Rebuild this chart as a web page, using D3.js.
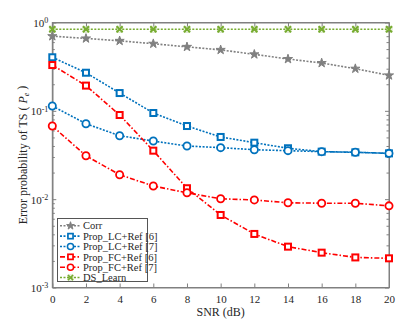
<!DOCTYPE html>
<html>
<head>
<meta charset="utf-8">
<script src="https://cdn.jsdelivr.net/npm/d3@7"></script>
<style>
  body { margin: 0; background: #fff; }
  svg text { font-family: "Liberation Serif", "DejaVu Serif", serif !important; fill: #262626; }
  .axis path, .axis line { stroke: #808080; }
</style>
</head>
<body>
<div class="chart"></div>
<script>
const snr = [0, 2, 4, 6, 8, 10, 12, 14, 16, 18, 20];
const corr     = [0.70, 0.66, 0.62, 0.575, 0.53, 0.49, 0.436, 0.386, 0.348, 0.30, 0.252];
const lcRef6   = [0.404, 0.27, 0.159, 0.0945, 0.0673, 0.0506, 0.0436, 0.0377, 0.0345, 0.0339, 0.033];
const lcRef7   = [0.1135, 0.0715, 0.0523, 0.0455, 0.040, 0.0383, 0.0363, 0.0354, 0.0345, 0.034, 0.033];
const fcRef6   = [0.33, 0.193, 0.0897, 0.0354, 0.0133, 0.00662, 0.00404, 0.0029, 0.00248, 0.00219, 0.00214];
const fcRef7   = [0.0673, 0.031, 0.0189, 0.0141, 0.0118, 0.0101, 0.0098, 0.0091, 0.009, 0.009, 0.0084];
const dsLearn  = [0.84, 0.84, 0.84, 0.84, 0.84, 0.84, 0.84, 0.84, 0.84, 0.84, 0.84];
const xTicks = [0, 2, 4, 6, 8, 10, 12, 14, 16, 18, 20];
const yTicks = [1e-3, 1e-2, 1e-1, 1];

const series = [
  {name: 'Corr', values: corr, color: '#808080', dash: '2,1.5', marker: 'star'},
  {name: 'Prop_LC+Ref [6]', values: lcRef6, color: '#0072BD', dash: '2,1.5', marker: 'square'},
  {name: 'Prop_LC+Ref [7]', values: lcRef7, color: '#0072BD', dash: '2,1.5', marker: 'circle'},
  {name: 'Prop_FC+Ref [6]', values: fcRef6, color: '#FF0000', dash: '5,2,1.5,2', marker: 'square'},
  {name: 'Prop_FC+Ref [7]', values: fcRef7, color: '#FF0000', dash: '5,2,1.5,2', marker: 'circle'},
  {name: 'DS_Learn', values: dsLearn, color: '#77AC30', dash: '2,1.5', marker: 'cross'}
];

const W = 415, H = 335;
const margin = {left: 52.3, right: 389, top: 22.5, bottom: 287.5};
const FONT = '"Liberation Serif", "DejaVu Serif", serif';

const svg = d3.select('.chart').append('svg')
  .attr('width', W).attr('height', H)
  .attr('viewBox', [0, 0, W, H])
  .attr('font-family', FONT);

const x = d3.scaleLinear().domain([0, 20]).range([margin.left, margin.right]);
const y = d3.scaleLog().domain([1e-3, 1]).range([margin.bottom, margin.top]);

// minor ticks for log axis
const minor = [];
[1e-3, 1e-2, 1e-1].forEach(d => { for (let k = 2; k <= 9; k++) minor.push(d * k); });

// axes
const xAxis = svg.append('g').attr('class', 'axis')
  .attr('transform', `translate(0,${margin.bottom})`)
  .call(d3.axisBottom(x).tickValues(xTicks).tickSizeInner(-4).tickSizeOuter(0).tickPadding(8));
svg.append('g').attr('class', 'axis')
  .attr('transform', `translate(0,${margin.top})`)
  .call(d3.axisTop(x).tickValues(xTicks).tickSizeInner(-4).tickSizeOuter(0).tickFormat(''));

const yAxis = svg.append('g').attr('class', 'axis')
  .attr('transform', `translate(${margin.left},0)`)
  .call(d3.axisLeft(y).tickValues(yTicks).tickSizeInner(-4).tickSizeOuter(0).tickFormat(''));
svg.append('g').attr('class', 'axis')
  .attr('transform', `translate(${margin.right},0)`)
  .call(d3.axisRight(y).tickValues(yTicks).tickSizeInner(-4).tickSizeOuter(0).tickFormat(''));
svg.append('g').attr('class', 'axis')
  .attr('transform', `translate(${margin.left},0)`)
  .call(d3.axisLeft(y).tickValues(minor).tickSizeInner(-2.5).tickSizeOuter(0).tickFormat(''));
svg.append('g').attr('class', 'axis')
  .attr('transform', `translate(${margin.right},0)`)
  .call(d3.axisRight(y).tickValues(minor).tickSizeInner(-2.5).tickSizeOuter(0).tickFormat(''));

svg.selectAll('.axis').attr('font-family', FONT);
xAxis.selectAll('text').attr('font-size', 11).attr('fill', '#262626');

// y tick labels as 10^n
yAxis.selectAll('.tick').each(function(d) {
  const t = d3.select(this).append('text')
    .attr('x', -4).attr('dy', '0.35em')
    .attr('text-anchor', 'end')
    .attr('font-size', 11);
  t.append('tspan').text('10');
  t.append('tspan').attr('dy', '-0.45em').attr('font-size', 8).text(Math.round(Math.log10(d)));
});

// box
svg.append('rect')
  .attr('x', margin.left).attr('y', margin.top)
  .attr('width', margin.right - margin.left).attr('height', margin.bottom - margin.top)
  .attr('fill', 'none').attr('stroke', '#808080');

// axis labels
svg.append('text')
  .attr('x', (margin.left + margin.right) / 2).attr('y', 316)
  .attr('text-anchor', 'middle')
  .attr('font-size', 12)
  .text('SNR (dB)');

const yl = svg.append('text')
  .attr('transform', `translate(27,${(margin.top + margin.bottom) / 2}) rotate(-90)`)
  .attr('text-anchor', 'middle')
  .attr('font-size', 12);
yl.append('tspan').text('Error probability of TS ( ');
yl.append('tspan').attr('font-style', 'italic').text('P');
yl.append('tspan').attr('dy', '0.3em').attr('font-size', 8).attr('font-style', 'italic').text('e');
yl.append('tspan').attr('dy', '-0.3em').text(' )');

function drawMarker(g, type, color, cx, cy, s) {
  const h = 3 * s;
  if (type === 'square') {
    g.append('rect').attr('x', cx - h).attr('y', cy - h).attr('width', 2 * h).attr('height', 2 * h)
      .attr('fill', '#fff').attr('stroke', color).attr('stroke-width', 2 * s);
  } else if (type === 'circle') {
    g.append('circle').attr('cx', cx).attr('cy', cy).attr('r', 3.6 * s)
      .attr('fill', '#fff').attr('stroke', color).attr('stroke-width', 1.8 * s);
  } else if (type === 'star') {
    g.append('path').attr('d', d3.symbol(d3.symbolStar, 26 * s * s)())
      .attr('transform', `translate(${cx},${cy})`)
      .attr('fill', color).attr('stroke', color).attr('stroke-width', 1);
  } else if (type === 'cross') {
    g.append('path').attr('d', `M${cx - h},${cy - h}L${cx + h},${cy + h}M${cx - h},${cy + h}L${cx + h},${cy - h}`)
      .attr('stroke', color).attr('stroke-width', 2 * s);
    g.append('rect').attr('x', cx - h).attr('y', cy - h).attr('width', 2 * h).attr('height', 2 * h)
      .attr('fill', 'none').attr('stroke', color).attr('stroke-width', 0.6).attr('opacity', 0.5);
  }
}

const line = d3.line().x((d, i) => x(snr[i])).y(d => y(d));

series.forEach(s => {
  const g = svg.append('g');
  g.append('path')
    .attr('d', line(s.values))
    .attr('fill', 'none')
    .attr('stroke', s.color)
    .attr('stroke-width', 1.6)
    .attr('stroke-dasharray', s.dash);
  s.values.forEach((v, i) => drawMarker(g, s.marker, s.color, x(snr[i]), y(v), 1));
});

// legend
const lg = svg.append('g');
lg.append('rect')
  .attr('x', 57.5).attr('y', 218.5).attr('width', 90).attr('height', 63)
  .attr('fill', '#fff').attr('stroke', '#555');
series.forEach((s, i) => {
  const ly = 225.8 + i * 10.35;
  lg.append('line')
    .attr('x1', 60).attr('x2', 81).attr('y1', ly).attr('y2', ly)
    .attr('stroke', s.color).attr('stroke-width', 1.6).attr('stroke-dasharray', s.dash);
  drawMarker(lg, s.marker, s.color, 70.5, ly, 0.85);
  lg.append('text')
    .attr('x', 83).attr('y', ly).attr('dy', '0.35em')
    .attr('font-size', 10.5)
    .text(s.name);
});
</script>
</body>
</html>
